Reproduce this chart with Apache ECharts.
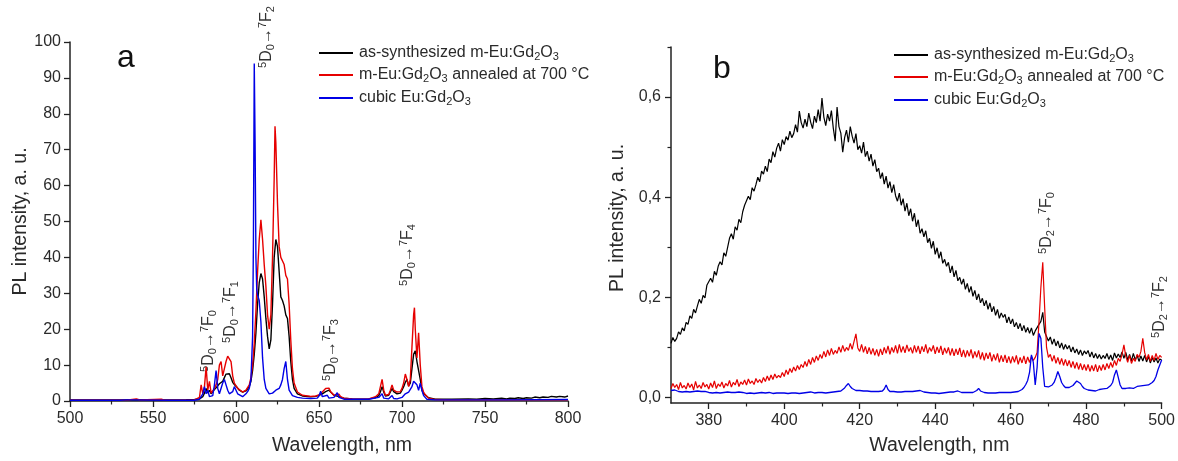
<!DOCTYPE html>
<html>
<head>
<meta charset="utf-8">
<script src="https://cdn.jsdelivr.net/npm/echarts@6/dist/echarts.min.js"></script>
<style>
html,body{margin:0;padding:0;background:#fff;}
#chart{width:1178px;height:461px;}
</style>
</head>
<body>
<div id="chart"></div>
<script>
// ---------- DATA ----------
const seriesNames = ['as-synthesized m-Eu:Gd2O3', 'm-Eu:Gd2O3 annealed at 700 °C', 'cubic Eu:Gd2O3'];
const legendLabels = ['as-synthesized m-Eu:Gd{s|2}O{s|3}', 'm-Eu:Gd{s|2}O{s|3} annealed at 700 °C', 'cubic Eu:Gd{s|2}O{s|3}'];
const seriesColors = ['#000000', '#e60000', '#0000e6'];

// panel a: [wavelength nm, intensity a.u.]
const asSynthA = [[500,0.3],[510,0.3],[520,0.3],[530,0.3],[540,0.35],[550,0.3],[560,0.3],[570,0.35],[575,0.4],[578,0.6],[580,1.2],[581,2.2],[582,3.5],[583,2.2],[584,3],[585,2],[586,2.2],[587,3.2],[588,3.6],[589,4.2],[590,4.8],[591,5.2],[592,5.5],[593,6.5],[594,7.5],[595,7.8],[596,7.6],[597,6.5],[598,5.2],[599,4.6],[600,4.2],[601,3.6],[602,3],[604,2.5],[606,2.8],[607,3.2],[608,4],[609,5.5],[610,8.5],[611,13],[612,19],[613,27],[614,33],[615,35.5],[616,34],[617,29],[618,23],[619,18],[620,14.5],[621,17],[622,27],[623,40],[624,45],[625,43],[626,36],[627,29],[628,28],[629,26.5],[630,24],[631,23],[632,18],[633,11],[634,6],[635,3.5],[637,2],[640,1.4],[645,1.2],[648,1.3],[650,1.6],[652,2],[654,2.6],[655,3],[656,3],[657,2.5],[659,1.6],[662,1.2],[665,0.8],[670,0.6],[675,0.5],[680,0.6],[684,0.9],[686,1.5],[687,2.6],[688,4],[689,2.5],[690,1.4],[692,1.6],[693,2.5],[694,3.5],[695,2.6],[697,2],[699,2.2],[700,3],[701,4],[702,5.2],[703,6],[704,4.2],[705,5],[706,9],[707,13],[708,14],[709,11],[710,10.5],[711,6],[712,3],[713,2],[714,1.5],[716,0.9],[720,0.5],[730,0.5],[740,0.6],[745,0.5],[750,0.7],[755,0.6],[760,0.8],[763,0.6],[765,0.8],[768,0.7],[770,0.9],[773,0.7],[775,0.9],[778,0.8],[780,1.1],[783,0.9],[785,1.1],[788,1],[790,1.3],[793,1.1],[795,1.3],[798,1.1],[800,1.4]];

const annealedA = [[500,0.2],[520,0.2],[535,0.3],[540,0.6],[542,0.3],[555,0.5],[557,0.2],[570,0.2],[575,0.3],[578,1],[579,4.5],[580,2],[581,4],[582,9.5],[583,3],[584,5.5],[585,2.2],[586,2.5],[587,3.5],[588,4.5],[589,6],[590,10],[591,11],[592,7],[593,9],[594,11],[595,12.5],[596,12],[597,11],[598,7],[599,5],[600,4.5],[601,3.5],[602,3],[604,2.5],[606,3],[607,3.5],[608,4.5],[609,6.5],[610,10],[611,16],[612,25],[613,36],[614,45],[615,50.5],[616,45],[617,38],[618,32],[619,24],[620,20],[621,24],[622,40],[623,62],[623.5,76.5],[624,72],[625,55],[626,43],[627,40],[628,39.5],[629,38],[630,35],[631,34],[632,27],[633,17],[634,9],[635,5],[637,2.5],[640,1.6],[645,1.3],[648,1.4],[650,1.7],[652,2.5],[654,3.5],[655,3.8],[656,3.6],[657,2.6],[659,1.6],[662,1.9],[663,1.2],[665,0.8],[670,0.6],[675,0.5],[680,0.6],[684,1.2],[686,2],[687,4],[688,6],[689,3],[690,1.6],[692,1.8],[693,3],[694,4.5],[695,3],[697,2.5],[699,2.6],[700,3.5],[701,5],[702,7.5],[703,6],[704,4],[705,6],[706,15],[707,24],[707.5,26],[708,20],[709,12],[710,19],[711,10],[712,4],[713,2.5],[714,1.8],[715,1.6],[716,0.8],[720,0.4],[730,0.3],[760,0.3],[800,0.3]];

const cubicA = [[500,0.2],[530,0.2],[534,0.3],[535,0.7],[536,0.3],[560,0.2],[575,0.2],[578,0.5],[580,2],[581,4],[582,2],[583,3],[584,1.2],[585,0.8],[586,1.5],[587,4.5],[588,8.5],[589,3.5],[590,2],[591,2.2],[592,5],[593,6],[594,4.5],[595,3],[596,2],[597,2],[598,2.6],[599,4],[600,3],[601,2],[602,1.5],[604,1.2],[606,2],[607,2.6],[608,3.5],[609,6],[610,18],[610.5,45],[611,94],[611.5,72],[612,40],[612.5,31],[613,29.5],[614,28],[615,22],[616,12],[617,6],[618,3.5],[620,2],[622,2.2],[624,3],[626,3.5],[627,4.5],[628,6],[629,9],[630,11],[631,6],[632,3],[634,1.5],[637,1],[640,0.8],[645,0.7],[649,0.8],[650,1.4],[651,2.7],[652,1.2],[653,0.8],[655,1.6],[656,0.8],[659,1],[661,2.3],[662,1],[665,0.5],[680,0.5],[686,1],[688,2],[689,0.8],[692,0.6],[694,1.5],[695,0.7],[697,0.6],[700,1],[702,2],[704,2.5],[705,3],[706,4],[707,5.5],[708,6],[709,4.5],[710,3],[711,5],[712,3],[713,1.5],[715,0.5],[720,0.3],[760,0.3],[800,0.4]];

// panel b: wavelength grid 370..500 nm, 0.5 nm step; intensities
const wlStartB = 370, wlStepB = 0.5;
const asSynthB = [
.108,.120,.112,.118,.131,.126,.139,.133,.150,.146,
.163,.158,.176,.169,.183,.196,.188,.204,.199,.224,
.221,.238,.230,.252,.244,.262,.271,.265,.289,.282,
.300,.318,.327,.316,.341,.334,.356,.349,.371,.384,
.386,.402,.395,.419,.412,.425,.440,.431,.452,.446,
.462,.451,.476,.469,.491,.480,.498,.508,.492,.515,
.505,.521,.514,.532,.519,.527,.545,.530,.572,.549,
.538,.556,.541,.568,.550,.537,.562,.549,.575,.552,
.598,.560,.543,.566,.552,.573,.538,.512,.580,.541,
.528,.490,.519,.534,.510,.541,.522,.508,.527,.495,
.503,.488,.510,.481,.492,.472,.486,.462,.475,.451,
.458,.437,.449,.426,.442,.418,.431,.409,.425,.403,
.392,.408,.384,.397,.372,.388,.363,.377,.352,.368,
.341,.355,.328,.337,.321,.333,.309,.318,.298,.312,
.286,.299,.278,.291,.268,.276,.262,.270,.249,.263,
.241,.254,.233,.240,.226,.237,.216,.228,.210,.222,
.202,.214,.195,.207,.189,.198,.183,.194,.176,.189,
.171,.182,.164,.176,.158,.169,.160,.166,.149,.161,
.147,.157,.141,.150,.137,.148,.133,.144,.130,.140,
.128,.139,.124,.133,.130,.146,.152,.170,.131,.122,
.113,.121,.106,.117,.103,.113,.099,.109,.096,.106,
.097,.104,.091,.101,.089,.097,.086,.095,.084,.093,
.087,.094,.081,.091,.079,.088,.078,.086,.077,.084,
.078,.088,.076,.085,.074,.089,.079,.087,.080,.091,
.078,.090,.075,.086,.073,.088,.075,.084,.072,.083,
.073,.084,.071,.082,.069,.080,.071,.079,.069,.077,
.075];

const annealedB = [
.018,.028,.020,.026,.016,.030,.019,.024,.017,.029,
.020,.027,.015,.032,.019,.025,.018,.030,.021,.026,
.017,.029,.020,.033,.018,.027,.022,.031,.019,.028,
.023,.034,.021,.030,.025,.036,.022,.031,.026,.035,
.025,.037,.028,.033,.026,.038,.030,.036,.029,.040,
.032,.043,.034,.045,.036,.047,.039,.044,.040,.050,
.042,.055,.046,.058,.050,.061,.053,.064,.056,.066,
.060,.072,.062,.076,.066,.080,.070,.083,.074,.086,
.078,.092,.081,.095,.084,.098,.086,.094,.088,.101,
.090,.104,.092,.100,.094,.108,.096,.112,.127,.099,
.092,.106,.090,.102,.087,.100,.086,.098,.084,.096,
.082,.097,.085,.100,.088,.103,.086,.100,.090,.104,
.088,.106,.090,.102,.089,.105,.092,.100,.088,.104,
.090,.103,.087,.102,.091,.106,.088,.100,.092,.104,
.087,.101,.089,.103,.085,.099,.088,.100,.084,.098,
.083,.097,.085,.099,.081,.095,.080,.094,.082,.096,
.078,.092,.080,.094,.076,.090,.074,.089,.077,.090,
.072,.086,.074,.088,.070,.084,.071,.085,.069,.082,
.068,.082,.070,.084,.066,.080,.069,.083,.067,.081,
.070,.082,.074,.080,.090,.150,.220,.270,.180,.100,
.080,.086,.072,.084,.068,.080,.066,.078,.064,.076,
.063,.074,.060,.072,.058,.070,.056,.068,.055,.066,
.054,.066,.052,.064,.053,.066,.051,.064,.054,.066,
.055,.068,.058,.070,.060,.074,.064,.078,.072,.086,
.105,.082,.070,.084,.068,.078,.072,.086,.080,.092,
.118,.090,.075,.086,.072,.084,.074,.088,.076,.084,
.080];

const cubicB = [
.014,.012,.015,.013,.012,.014,.011,.013,.012,.014,
.011,.013,.012,.010,.013,.011,.012,.010,.012,.011,
.010,.012,.009,.011,.010,.012,.009,.011,.010,.009,
.011,.009,.010,.008,.010,.009,.011,.008,.010,.009,
.008,.010,.009,.011,.008,.010,.009,.008,.010,.009,
.009,.008,.010,.009,.008,.010,.009,.011,.009,.010,
.009,.010,.008,.010,.009,.011,.009,.010,.008,.010,
.009,.011,.010,.009,.011,.010,.009,.011,.010,.012,
.010,.011,.009,.011,.010,.012,.011,.013,.012,.014,
.013,.016,.019,.024,.028,.022,.018,.016,.014,.013,
.014,.017,.013,.012,.013,.011,.012,.011,.012,.011,
.012,.011,.013,.017,.025,.016,.012,.011,.012,.010,
.011,.012,.011,.013,.012,.011,.012,.013,.012,.014,
.013,.015,.014,.012,.011,.012,.010,.011,.009,.010,
.009,.010,.008,.010,.009,.008,.010,.009,.011,.010,
.011,.012,.013,.012,.010,.011,.010,.009,.010,.011,
.010,.012,.014,.018,.013,.011,.010,.011,.009,.010,
.009,.010,.009,.011,.010,.009,.010,.011,.010,.012,
.010,.012,.011,.013,.012,.015,.016,.020,.026,.034,
.050,.085,.070,.025,.060,.128,.118,.060,.022,.020,
.021,.023,.025,.030,.040,.052,.042,.030,.024,.020,
.021,.020,.022,.024,.026,.033,.031,.028,.022,.018,
.016,.015,.017,.014,.015,.013,.014,.016,.015,.017,
.016,.018,.020,.024,.030,.045,.055,.040,.025,.018,
.016,.018,.017,.019,.020,.018,.021,.022,.020,.023,
.022,.024,.026,.025,.028,.030,.034,.042,.055,.065,
.075];

// tick values
const xTicksA = [500, 550, 600, 650, 700, 750, 800];
const yTicksA = [0, 10, 20, 30, 40, 50, 60, 70, 80, 90, 100];
const xMajorB = [380, 400, 420, 440, 460, 480, 500];
const xMinorB = [390, 410, 430, 450, 470, 490];
const yMajorB = [0, 0.2, 0.4, 0.6];
const yMinorB = [0.1, 0.3, 0.5, 0.7];

// ---------- CHART ----------
const FONT = '"Liberation Sans", Arial, sans-serif';
const AX = '#222';
const TXT = '#2a2a2a';
const withGrid = arr => arr.map((v, i) => [wlStartB + i * wlStepB, v]);

const axisCommon = {
  axisLine: { show: true, onZero: false, lineStyle: { color: AX, width: 1.5 } },
  axisTick: { show: true, inside: false, length: 6, lineStyle: { color: AX, width: 1.3 } },
  splitLine: { show: false },
  axisLabel: { color: TXT, fontSize: 16, fontFamily: FONT }
};
const nameStyleX = { color: TXT, fontSize: 19.5, fontFamily: FONT, padding: [0, 0, 0, 46] };
const nameStyleY = { color: TXT, fontSize: 19.5, fontFamily: FONT };

const chart = echarts.init(document.getElementById('chart'), null, { renderer: 'canvas' });

function legendAt(i, left, top) {
  return {
    show: true, selectedMode: false, left: left, top: top, padding: 0,
    data: [seriesNames[i]], icon: 'rect', itemWidth: 34, itemHeight: 2, itemGap: 0,
    formatter: () => legendLabels[i],
    textStyle: { color: TXT, fontSize: 16, fontFamily: FONT, padding: [0, 0, 0, 1],
      rich: { s: { fontSize: 11, fontFamily: FONT, color: TXT, padding: [8, 0, 0, 0] } } }
  };
}

function annot(x, y, lower, upper) {
  return {
    type: 'text', x: x, y: y, rotation: Math.PI / 2, silent: true,
    style: {
      text: '{p|5}D{b|' + lower + '}\u2192{p|7}F{b|' + upper + '}',
      fill: '#333', fontSize: 16, fontFamily: FONT, align: 'center', verticalAlign: 'middle',
      rich: {
        p: { fontSize: 11, fontFamily: FONT, fill: '#333', padding: [0, 0, 8, 0] },
        b: { fontSize: 11, fontFamily: FONT, fill: '#333', padding: [8, 0, 0, 0] }
      }
    }
  };
}

const lineSeries = (name, data, color, xi, yi, w) => ({
  type: 'line', name: name, data: data, xAxisIndex: xi, yAxisIndex: yi,
  showSymbol: false, symbol: 'none', lineStyle: { color: color, width: w }, itemStyle: { color: color },
  animation: false, silent: true
});

const option = {
  animation: false,
  backgroundColor: '#fff',
  textStyle: { fontFamily: FONT },
  grid: [
    { left: 70, right: 610, top: 42, bottom: 53 },
    { left: 671, right: 16, top: 47, bottom: 51 }
  ],
  xAxis: [
    Object.assign({}, axisCommon, {
      gridIndex: 0, type: 'value', min: xTicksA[0], max: xTicksA[xTicksA.length - 1], interval: 50,
      minorTick: { show: true, splitNumber: 2, length: 3.5, lineStyle: { color: AX, width: 1.2 } },
      axisLabel: Object.assign({}, axisCommon.axisLabel, { margin: 10 }),
      name: 'Wavelength, nm', nameLocation: 'middle', nameGap: 35, nameTextStyle: nameStyleX
    }),
    Object.assign({}, axisCommon, {
      gridIndex: 1, type: 'value', position: 'bottom', min: 370, max: 500,
      axisTick: Object.assign({}, axisCommon.axisTick, { customValues: xMajorB }),
      axisLabel: Object.assign({}, axisCommon.axisLabel, { margin: 10, customValues: xMajorB }),
      name: 'Wavelength, nm', nameLocation: 'middle', nameGap: 33, nameTextStyle: nameStyleX
    }),
    {
      gridIndex: 1, type: 'value', position: 'bottom', min: 370, max: 500,
      axisLine: { show: false, onZero: false },
      axisTick: { show: true, inside: false, length: 3.5, customValues: xMinorB, lineStyle: { color: AX, width: 1.2 } },
      axisLabel: { show: false }, splitLine: { show: false }
    }
  ],
  yAxis: [
    Object.assign({}, axisCommon, {
      gridIndex: 0, type: 'value', min: yTicksA[0], max: yTicksA[yTicksA.length - 1], interval: 10,
      axisLabel: Object.assign({}, axisCommon.axisLabel, { margin: 9 }),
      name: 'PL intensity, a. u.', nameLocation: 'middle', nameGap: 38, nameRotate: 90, nameTextStyle: nameStyleY
    }),
    Object.assign({}, axisCommon, {
      gridIndex: 1, type: 'value', position: 'left', min: -0.011, max: 0.7,
      axisTick: Object.assign({}, axisCommon.axisTick, { customValues: yMajorB }),
      axisLabel: Object.assign({}, axisCommon.axisLabel, { margin: 10, customValues: yMajorB,
        formatter: v => v.toFixed(1).replace('.', ',') }),
      name: 'PL intensity, a. u.', nameLocation: 'middle', nameGap: 43, nameRotate: 90,
      nameTextStyle: Object.assign({}, nameStyleY, { padding: [0, 0, 0, 14] })
    }),
    {
      gridIndex: 1, type: 'value', position: 'left', min: -0.011, max: 0.7,
      axisLine: { show: false, onZero: false },
      axisTick: { show: true, inside: false, length: 3.5, customValues: yMinorB, lineStyle: { color: AX, width: 1.2 } },
      axisLabel: { show: false }, splitLine: { show: false }
    }
  ],
  legend: [
    legendAt(0, 319, 45), legendAt(1, 319, 67), legendAt(2, 319, 90),
    legendAt(0, 894, 47), legendAt(1, 894, 69), legendAt(2, 894, 92)
  ],
  series: [
    lineSeries(seriesNames[0], asSynthA, seriesColors[0], 0, 0, 1.4),
    lineSeries(seriesNames[1], annealedA, seriesColors[1], 0, 0, 1.4),
    lineSeries(seriesNames[2], cubicA, seriesColors[2], 0, 0, 1.4),
    lineSeries(seriesNames[0], withGrid(asSynthB), seriesColors[0], 1, 1, 1.2),
    lineSeries(seriesNames[1], withGrid(annealedB), seriesColors[1], 1, 1, 1.2),
    lineSeries(seriesNames[2], withGrid(cubicB), seriesColors[2], 1, 1, 1.3)
  ],
  graphic: [
    { type: 'text', x: 126, y: 58, silent: true, style: { text: 'a', fontSize: 32, fontFamily: FONT, fill: '#111', align: 'center', verticalAlign: 'middle' } },
    { type: 'text', x: 722, y: 69, silent: true, style: { text: 'b', fontSize: 32, fontFamily: FONT, fill: '#111', align: 'center', verticalAlign: 'middle' } },
    annot(267, 37, 0, 2),
    annot(209, 341, 0, 0),
    annot(231, 312, 0, 1),
    annot(331, 350, 0, 3),
    annot(408, 255, 0, 4),
    annot(1047, 223, 2, 0),
    annot(1160, 307, 2, 2)
  ]
};
chart.setOption(option);
</script>
</body>
</html>
